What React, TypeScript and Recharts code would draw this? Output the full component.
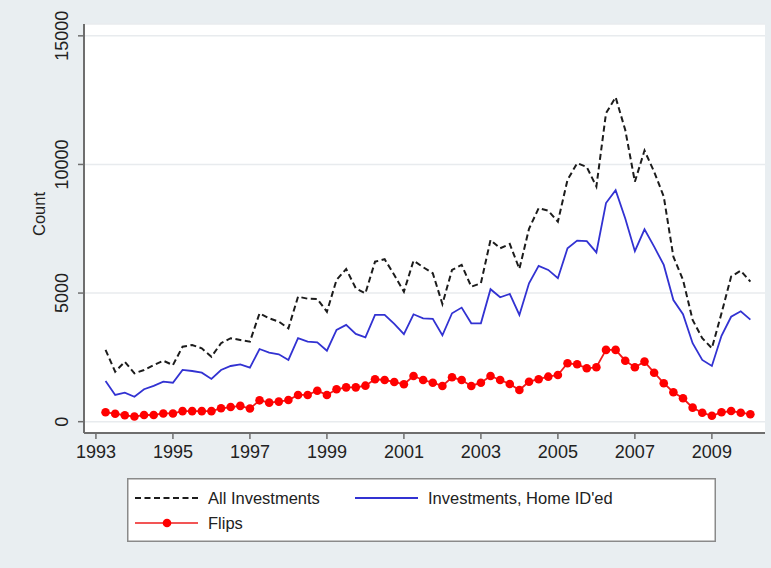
import React from 'react';
import { LineChart, Line, XAxis, YAxis, CartesianGrid, Legend, Label } from 'recharts';

// quarterly dates, 1993q2 .. 2010q1 (year + (q-1)/4)
const quarters = [
  1993.25, 1993.5, 1993.75,
  1994, 1994.25, 1994.5, 1994.75,
  1995, 1995.25, 1995.5, 1995.75,
  1996, 1996.25, 1996.5, 1996.75,
  1997, 1997.25, 1997.5, 1997.75,
  1998, 1998.25, 1998.5, 1998.75,
  1999, 1999.25, 1999.5, 1999.75,
  2000, 2000.25, 2000.5, 2000.75,
  2001, 2001.25, 2001.5, 2001.75,
  2002, 2002.25, 2002.5, 2002.75,
  2003, 2003.25, 2003.5, 2003.75,
  2004, 2004.25, 2004.5, 2004.75,
  2005, 2005.25, 2005.5, 2005.75,
  2006, 2006.25, 2006.5, 2006.75,
  2007, 2007.25, 2007.5, 2007.75,
  2008, 2008.25, 2008.5, 2008.75,
  2009, 2009.25, 2009.5, 2009.75,
  2010,
];

const allInvestments = [
  2790, 1945, 2330,
  1880, 2010, 2200, 2370,
  2200, 2915, 2980, 2850,
  2525, 3050, 3245, 3175,
  3110, 4215, 4020, 3890,
  3630, 4860, 4780, 4770,
  4275, 5510, 5935, 5185,
  4990, 6220, 6315, 5705,
  5055, 6260, 6005, 5770,
  4575, 5900, 6095, 5250,
  5380, 7065, 6740, 6910,
  5940, 7500, 8300, 8200,
  7775, 9400, 10050, 9900,
  9140, 11990, 12610, 11340,
  9330, 10540, 9720, 8750,
  6415, 5510, 3955, 3245,
  2855, 4215, 5640, 5870,
  5445,
];

const homeIded = [
  1580, 1040, 1130,
  970, 1260, 1390, 1555,
  1515, 2010, 1970, 1905,
  1660, 2010, 2165, 2230,
  2100, 2825, 2685, 2620,
  2400, 3245, 3110, 3085,
  2760, 3565, 3760, 3410,
  3280, 4150, 4150, 3800,
  3400, 4175, 4020, 3995,
  3360, 4215, 4435, 3825,
  3825, 5150, 4835, 4965,
  4150, 5380, 6055, 5900,
  5575, 6740, 7040, 7020,
  6580, 8500, 9000, 7900,
  6630, 7480, 6805, 6095,
  4730, 4180, 3050, 2400,
  2165, 3340, 4080, 4290,
  3970,
];

const flips = [
  365, 310, 250,
  200, 260, 260, 320,
  320, 410, 410, 410,
  410, 520, 570, 615,
  510, 830, 740, 780,
  840, 1040, 1040, 1205,
  1040, 1260, 1335, 1335,
  1400, 1650, 1620, 1545,
  1455, 1775, 1620, 1515,
  1390, 1725, 1620, 1390,
  1515, 1775, 1620, 1465,
  1230, 1555, 1650, 1750,
  1815, 2270, 2230, 2075,
  2115, 2790, 2790, 2370,
  2115, 2335, 1905, 1495,
  1145, 910, 545, 350,
  230, 365, 415, 350,
  290,
];

const yearTicks = [1993, 1995, 1997, 1999, 2001, 2003, 2005, 2007, 2009];
const countTicks = [0, 5000, 10000, 15000];

const data = quarters.map((q, i) => ({
  q,
  all: allInvestments[i],
  home: homeIded[i],
  flips: flips[i],
}));

const FONT = '"Liberation Sans", Arial, Helvetica, sans-serif';
const BG = '#e9eef1';
const AXIS = '#6e6e6e';

function XTick(props: any) {
  const { x, y, payload } = props;
  return (
    <text x={x} y={y + 19} textAnchor="middle" fontFamily={FONT} fontSize={18} fill="#222">
      {payload.value}
    </text>
  );
}

function YTick(props: any) {
  const { x, y, payload } = props;
  const bx = x - 10;
  return (
    <text
      x={bx}
      y={y}
      transform={`rotate(-90, ${bx}, ${y})`}
      textAnchor="middle"
      fontFamily={FONT}
      fontSize={18}
      fill="#222"
    >
      {payload.value}
    </text>
  );
}

// legend slot for each series: two columns, two rows
const legendSlots: Record<string, { x: number; y: number }> = {
  all: { x: 8, y: 20 },
  home: { x: 228, y: 20 },
  flips: { x: 8, y: 45 },
};

function LegendBox(props: any) {
  const items = props.payload || [];
  return (
    <svg width={589} height={64} style={{ display: 'block' }}>
      <rect x={0.75} y={0.75} width={587.5} height={62.5} fill="#fff" stroke="#8a8a8a" strokeWidth={1.5} />
      {items.map((it: any) => {
        const s = legendSlots[it.dataKey];
        if (!s) return null;
        const dashed = it.payload && it.payload.strokeDasharray;
        const withDot = it.dataKey === 'flips';
        return (
          <g key={it.dataKey}>
            <line
              x1={s.x}
              x2={s.x + 63}
              y1={s.y}
              y2={s.y}
              stroke={it.color}
              strokeWidth={withDot ? 1.5 : 2}
              strokeDasharray={dashed || undefined}
            />
            {withDot && <circle cx={s.x + 32} cy={s.y} r={4.3} fill="#ff0000" />}
            <text x={s.x + 73} y={s.y + 6} fontFamily={FONT} fontSize={16.5} fill="#222">
              {it.value}
            </text>
          </g>
        );
      })}
    </svg>
  );
}

export default function App() {
  return (
    <div style={{ position: 'relative', width: 771, height: 568, background: BG, overflow: 'hidden' }}>
      <style>{`body { margin: 0; }`}</style>
      <LineChart
        width={771}
        height={568}
        data={data}
        margin={{ top: 24, right: 6, bottom: 0, left: 0 }}
      >
        <CartesianGrid vertical={false} fill="#ffffff" stroke="#e8ebee" strokeWidth={1.5} />
        <XAxis
          dataKey="q"
          type="number"
          domain={[1992.69, 2010.38]}
          ticks={yearTicks}
          allowDataOverflow
          height={135}
          tickSize={6}
          tickMargin={0}
          tick={<XTick />}
          axisLine={{ stroke: AXIS, strokeWidth: 2 }}
          tickLine={{ stroke: AXIS, strokeWidth: 1.5 }}
        />
        <YAxis
          type="number"
          domain={[-440, 15460]}
          ticks={countTicks}
          allowDataOverflow
          width={84}
          tickSize={6}
          tickMargin={0}
          tick={<YTick />}
          axisLine={{ stroke: AXIS, strokeWidth: 2 }}
          tickLine={{ stroke: AXIS, strokeWidth: 1.5 }}
        >
          <Label
            content={() => (
              <text
                x={45}
                y={214}
                transform="rotate(-90, 45, 214)"
                textAnchor="middle"
                fontFamily={FONT}
                fontSize={16.5}
                fill="#222"
              >
                Count
              </text>
            )}
          />
        </YAxis>
        <Legend
          layout="horizontal"
          verticalAlign="middle"
          align="center"
          content={<LegendBox />}
          wrapperStyle={{ left: 127, top: 478, width: 589, height: 64 }}
        />
        <Line
          type="linear"
          dataKey="all"
          name="All Investments"
          stroke="#1c1c1c"
          strokeWidth={2}
          strokeDasharray="6 3.5"
          dot={false}
          isAnimationActive={false}
        />
        <Line
          type="linear"
          dataKey="home"
          name="Investments, Home ID'ed"
          stroke="#3232d2"
          strokeWidth={1.8}
          dot={false}
          isAnimationActive={false}
        />
        <Line
          type="linear"
          dataKey="flips"
          name="Flips"
          stroke="#ee1c1c"
          strokeWidth={1.8}
          dot={{ r: 4.3, fill: '#ff0000', stroke: 'none' }}
          isAnimationActive={false}
        />
      </LineChart>
    </div>
  );
}
